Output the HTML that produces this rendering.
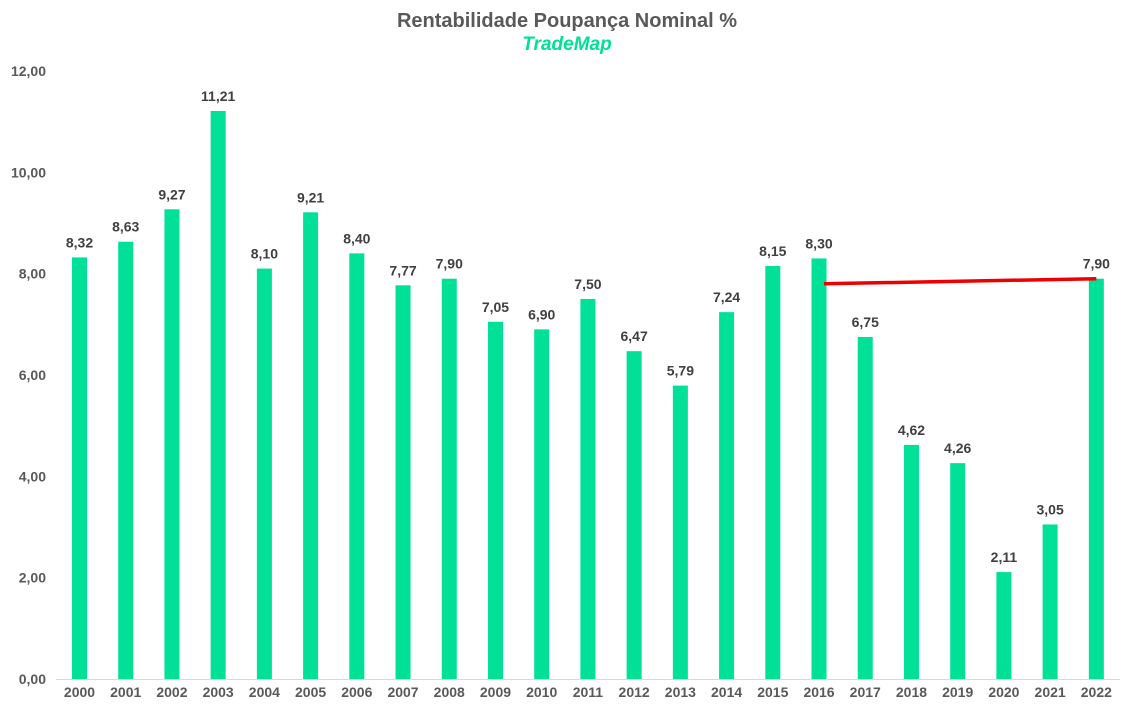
<!DOCTYPE html>
<html><head><meta charset="utf-8"><style>
body{margin:0;background:#fff;}
svg{display:block;font-family:"Liberation Sans",sans-serif;}
</style></head><body>
<svg id="chart" width="1135" height="710">
<text x="567" y="27" text-anchor="middle" font-size="20" font-weight="bold" fill="#595959">Rentabilidade Poupança Nominal %</text>
<text x="567" y="50" text-anchor="middle" font-size="19" font-weight="bold" font-style="italic" fill="#00E096">TradeMap</text>
<g id="yaxis"></g><g id="bars"></g><g id="xaxis"></g><g id="labels"></g><g id="trend"></g>
</svg>
<script>
const categories=["2000","2001","2002","2003","2004","2005","2006","2007","2008","2009","2010","2011","2012","2013","2014","2015","2016","2017","2018","2019","2020","2021","2022"];
const values=[8.32,8.63,9.27,11.21,8.10,9.21,8.40,7.77,7.90,7.05,6.90,7.50,6.47,5.79,7.24,8.15,8.30,6.75,4.62,4.26,2.11,3.05,7.90];
const yTicks=[0,2,4,6,8,10,12];
const trendFrom=7.8, trendTo=7.9;
const NS="http://www.w3.org/2000/svg";
const y=v=>679-v*50.67;
const x=i=>79.5+i*46.22;
const fmt=v=>v.toFixed(2).replace('.',',');
function mk(tag,attrs,parent,text){const e=document.createElementNS(NS,tag);for(const k in attrs)e.setAttribute(k,attrs[k]);if(text!==undefined)e.textContent=text;document.getElementById(parent).appendChild(e);return e;}
yTicks.forEach(t=>{
 const e=mk('text',{x:46,y:y(t)+5,'text-anchor':'end','font-size':14,'font-weight':'bold',fill:'#595959'},'yaxis',fmt(t));
 
 
});
const ax=mk('line',{x1:56,x2:1120,y1:679.5,y2:679.5,stroke:'#d9d9d9','stroke-width':1},'xaxis');


values.forEach((v,i)=>{
 const b=mk('rect',{x:x(i)-7.5,y:y(v),width:15,height:679-y(v),fill:'#00E096'},'bars');
 
 
 const l=mk('text',{x:x(i),y:y(v)-10,'text-anchor':'middle','font-size':14,'font-weight':'bold',fill:'#404040'},'labels',fmt(v));
 
 
 const c=mk('text',{x:x(i),y:697,'text-anchor':'middle','font-size':14,'font-weight':'bold',fill:'#595959'},'xaxis',categories[i]);
 
 
});
const tl=mk('line',{x1:x(16)+5,y1:y(trendFrom),x2:x(22),y2:y(trendTo),stroke:'#ee0000','stroke-width':3.5},'trend');


</script>
</body></html>
